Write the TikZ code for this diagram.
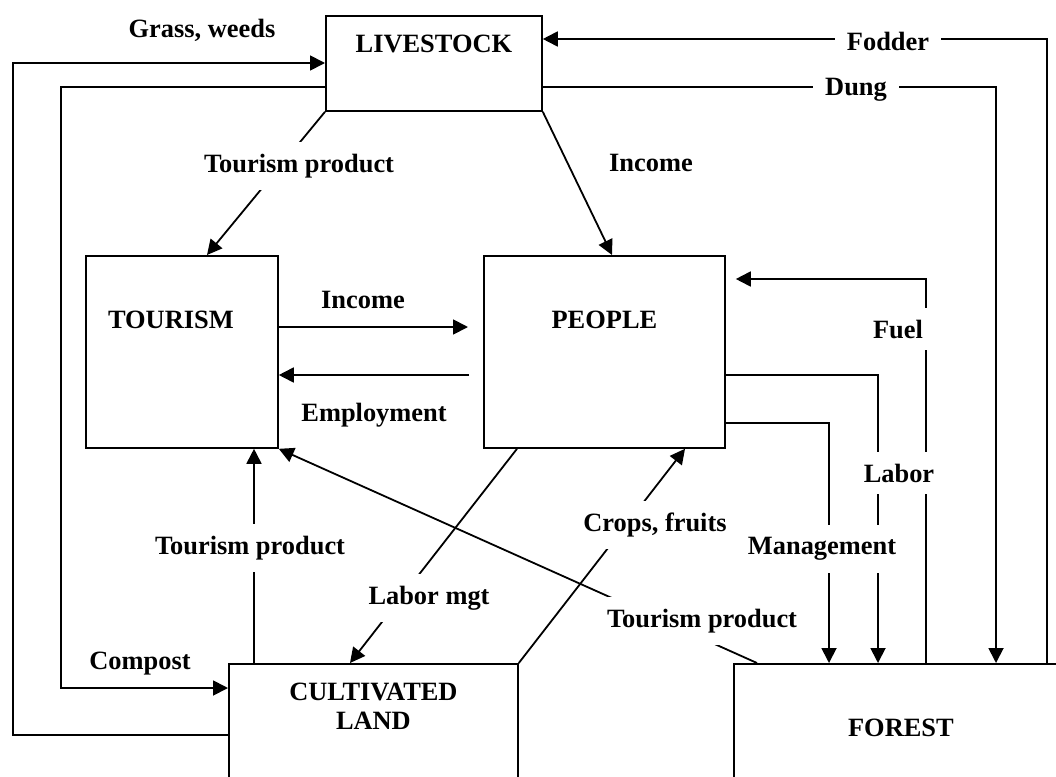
\documentclass[tikz,border=0pt]{standalone}
\usepackage{fontspec}
\setmainfont{Liberation Serif}
\usetikzlibrary{arrows.meta}

\begin{document}
\begin{tikzpicture}[
    x=1pt, y=-1pt,
    font=\fontsize{26.4}{29}\selectfont\bfseries,
    box/.style={rectangle, draw, line width=1.8pt, anchor=north west, align=center, inner ysep=0pt},
    arrow/.style={-{Triangle[length=15pt, width=15pt]}, line width=1.8pt},
    lbl/.style={inner sep=1pt},
    gaplbl/.style={fill=white, inner xsep=12pt, inner ysep=12pt}
]
\useasboundingbox (0,0) rectangle (1056,776);
\clip (0,0) rectangle (1056,776);

% Boxes, placed by their top left corners
\node[box, minimum width=216pt, text height=37pt, text depth=58pt] (livestock) at (325,15) {LIVESTOCK};
\node[box, minimum width=192pt, text height=73pt, text depth=119pt] (tourism) at (85,255) {TOURISM\hspace*{22pt}};
\node[box, minimum width=241pt, text height=73pt, text depth=119pt] (people) at (483,255) {PEOPLE};
\node[box, minimum width=289pt, text height=66pt, text depth=121pt] (land) at (228,663) {CULTIVATED \\ LAND};
\node[box, minimum width=334pt, text height=73pt, text depth=80pt] (forest) at (733,663) {FOREST};

% Land and livestock
\draw[arrow] (land.west |- 0,735) -| (13,63) -- (livestock.west |- 0,63);
\draw[arrow] (livestock.west |- 0,87) -| (61,688) -- (land.west |- 0,688);

% Forest and livestock
\draw[arrow] (forest.north -| 1047,0) |- (livestock.east |- 0,39);
\draw[arrow] (livestock.east |- 0,87) -| (forest.north -| 996,0);

% Livestock outputs
\draw[arrow] (livestock.south east) -- (people.north -| 612,0);
\draw[arrow] (livestock.south west) -- (tourism.north -| 207,0);

% Tourism and people
\draw[arrow, shorten >=15pt] (tourism.east |- 0,327) -- (people.west |- 0,327);
\draw[arrow, shorten <=14pt] (people.west |- 0,375) -- (tourism.east |- 0,375);

% People and forest
\draw[arrow, shorten >=10pt] (forest.north -| 926,0) |- (people.east |- 0,279);
\draw[arrow] (people.east |- 0,375) -| (forest.north -| 878,0);
\draw[arrow] (people.east |- 0,423) -| (forest.north -| 829,0);

% People and cultivated land
\draw[arrow] (people.south -| 517,0) -- (land.north -| 350,0);
\draw[arrow] (land.north east) -- (people.south -| 685,0);

% Tourism products
\draw[arrow] (forest.north -| 757,0) -- (tourism.south east);
\draw[arrow] (land.north -| 254,0) -- (tourism.south -| 254,0);

% Labels
\node[lbl] (grass) at (202,30) {Grass, weeds};
\node[lbl] (compost) at (140,664) {Compost};
\node[gaplbl] (fodder) at (888,41) {Fodder};
\node[gaplbl] (dung) at (856,90) {Dung};
\node[lbl] (incomelive) at (651,163) {Income};
\node[gaplbl] (prodlive) at (299,166) {Tourism product};
\node[lbl] (incometour) at (363,300) {Income};
\node[lbl] (employ) at (374,415) {Employment};
\node[gaplbl] (fuel) at (898,329) {Fuel};
\node[gaplbl] (labor) at (899,473) {Labor};
\node[gaplbl] (mgmt) at (822,549) {Management};
\node[gaplbl] (crops) at (655,525) {Crops, fruits};
\node[gaplbl] (labormgt) at (429,598) {Labor mgt};
\node[gaplbl] (prodforest) at (702,621) {Tourism product};
\node[gaplbl] (prodland) at (250,548) {Tourism product};

\end{tikzpicture}
\end{document}
